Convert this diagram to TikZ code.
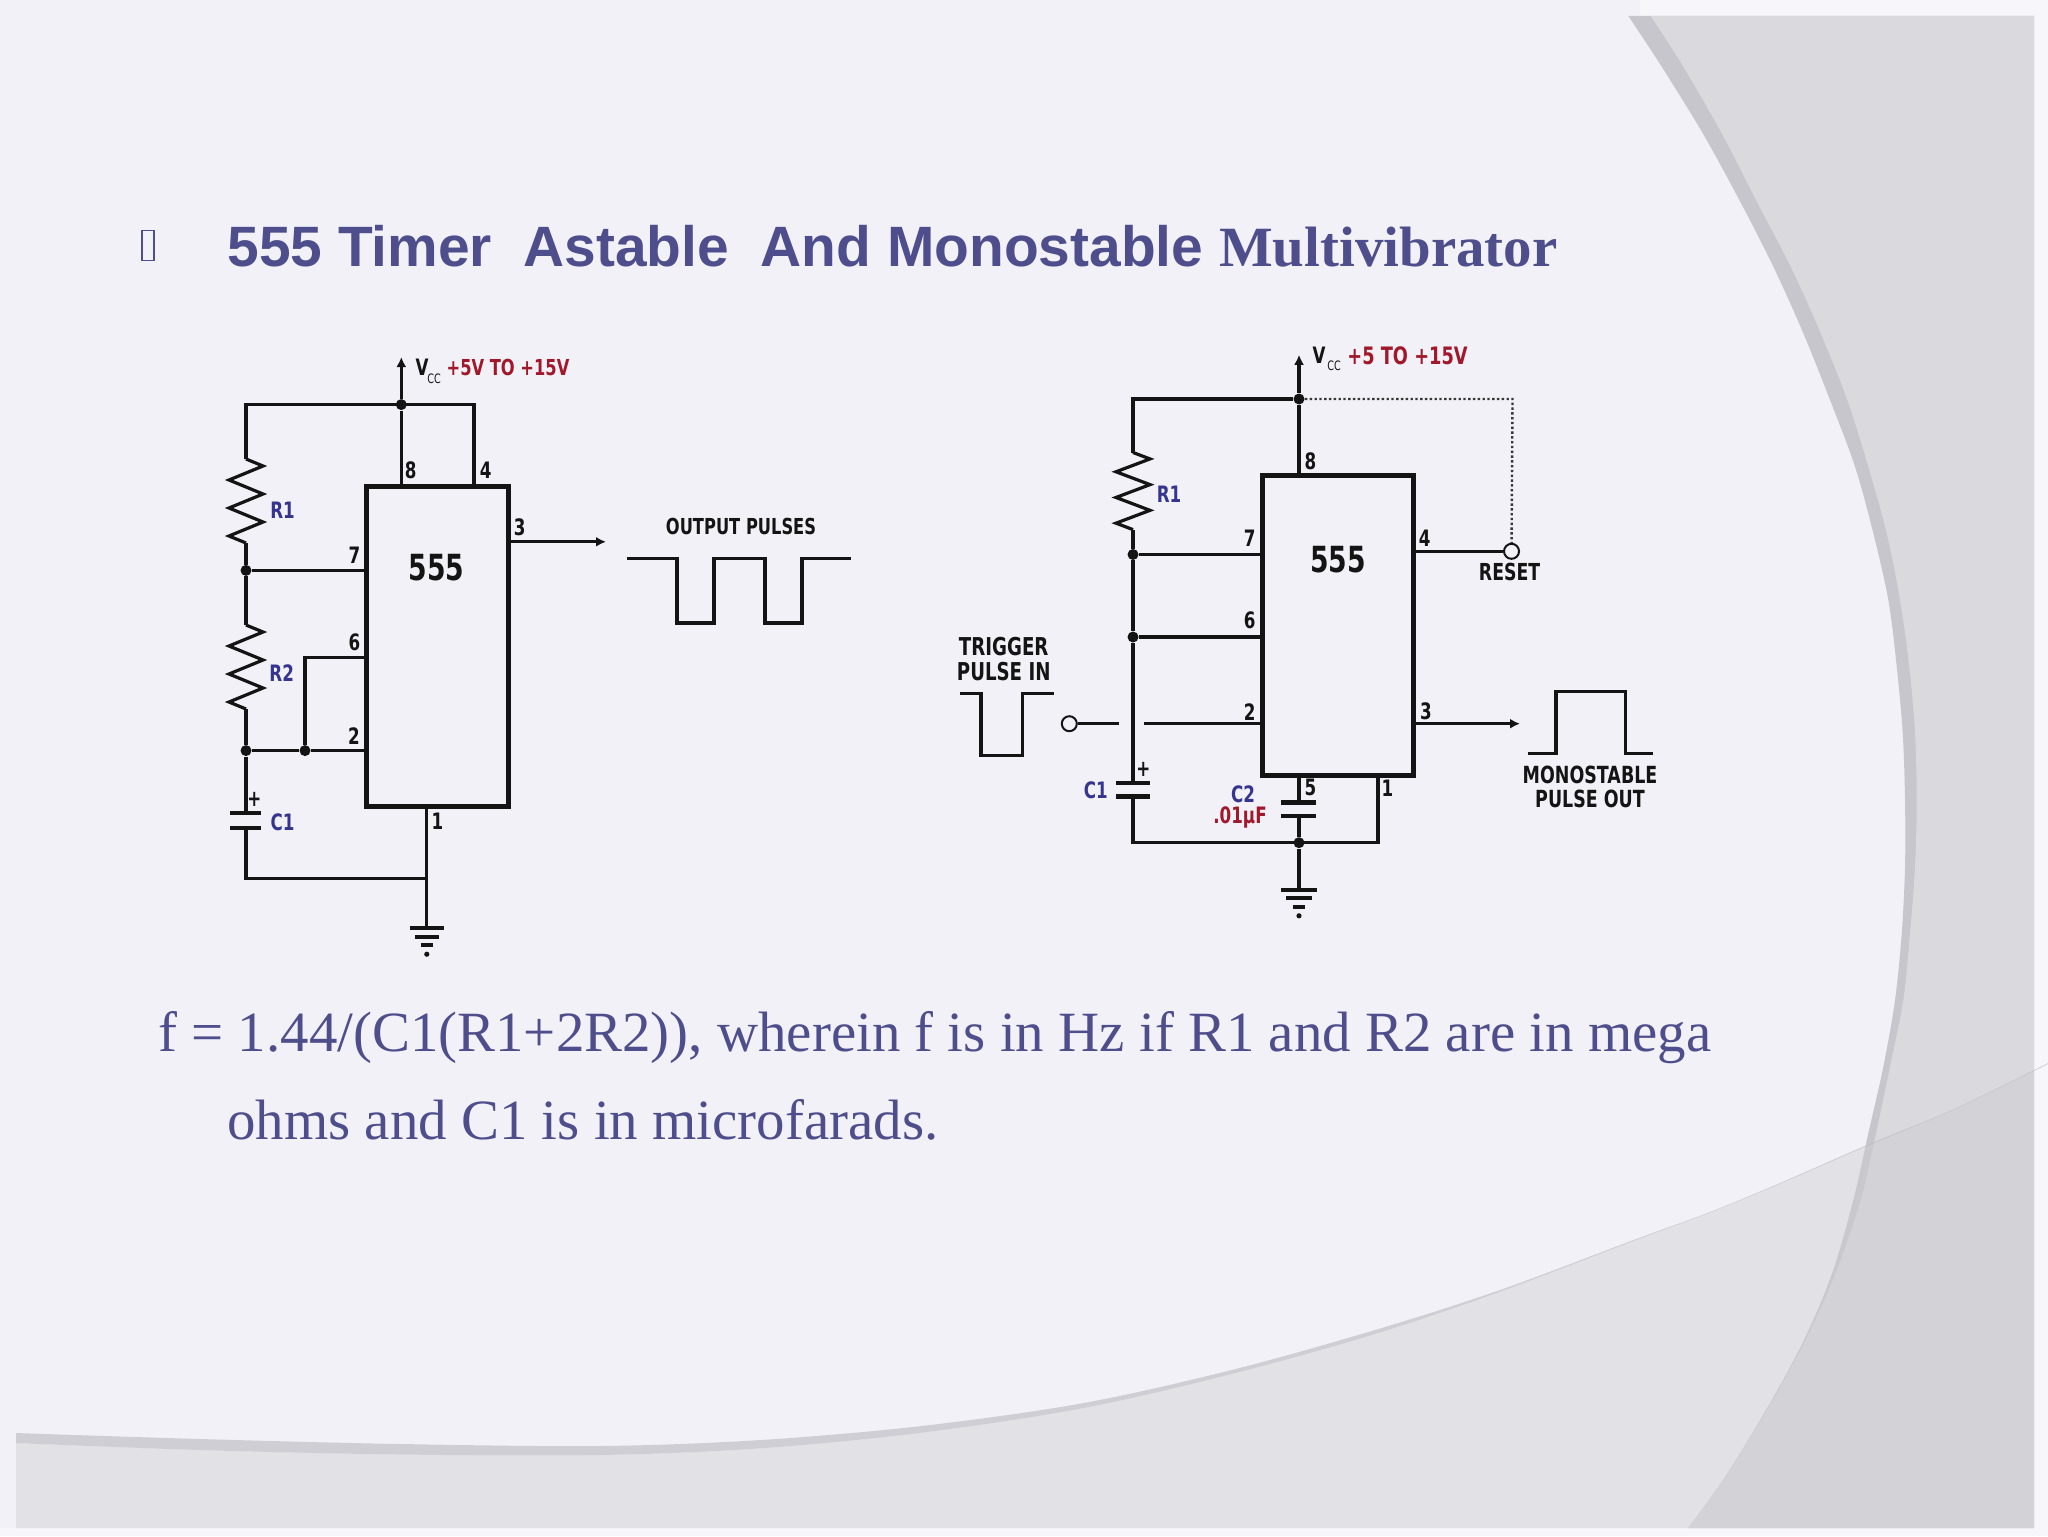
\documentclass[tikz,border=0pt]{standalone}
\usepackage{fontspec}
\usetikzlibrary{arrows.meta}
\setmainfont{Liberation Serif}
\newfontfamily\slidesans{Liberation Sans}
\newfontfamily\slideserif{Liberation Serif}
\newfontfamily\cktfont[FakeStretch=0.74]{DejaVu Sans}
\definecolor{slidebg}{HTML}{F2F1F8}
\definecolor{slidemargin}{HTML}{F7F7FB}
\definecolor{shadeR}{HTML}{D9D9DE}
\definecolor{bandR}{HTML}{C6C6CC}
\definecolor{swooshC}{RGB}{205,205,208}
\definecolor{bandS}{HTML}{B8B8BE}
\definecolor{txtpurple}{HTML}{4E4E8C}
\definecolor{cktred}{HTML}{A0182A}
\definecolor{cktblue}{HTML}{35358F}
\definecolor{cktblack}{HTML}{141414}
\tikzset{
  wire/.style={draw=cktblack,line width=1.6pt},
  chipbox/.style={draw=cktblack,line width=2.5pt,fill=none,inner sep=0pt,outer sep=0pt,anchor=north west},
  dotj/.style={circle,fill=cktblack,inner sep=0pt,minimum size=5.5pt},
  opencirc/.style={circle,draw=cktblack,fill=slidebg,line width=1pt,inner sep=0pt,minimum size=7.5pt},
  lbl/.style={font=\cktfont\bfseries\fontsize{11.3}{13}\selectfont,text=cktblack,inner sep=0pt,align=center},
  lblsz/.style={font=\cktfont\bfseries\fontsize{#1}{13}\selectfont},
  lblblue/.style={lbl,text=cktblue},
  lblred/.style={lbl,text=cktred},
  lblbig/.style={font=\cktfont\bfseries\fontsize{18}{20}\selectfont,text=cktblack,inner sep=0pt},
  plate/.style={draw=cktblack,line width=2.1pt},
  arrowwire/.style={wire,-{Latex[length=5pt,width=5pt]}},
  slidetxt/.style={anchor=base west,inner sep=0pt,text=txtpurple,font=\fontsize{28.45}{30}\selectfont},
}
\newcommand{\zigres}[3]{% x, ytop, ybot
  \draw[wire,line join=miter] (#1,#2) -- (#1+17,{#2+(#3-#2)/12}) -- (#1-17,{#2+3*(#3-#2)/12}) -- (#1+17,{#2+5*(#3-#2)/12}) -- (#1-17,{#2+7*(#3-#2)/12}) -- (#1+17,{#2+9*(#3-#2)/12}) -- (#1-17,{#2+11*(#3-#2)/12}) -- (#1,#3);
}
\newcommand{\gndsym}[3]{% x, ytop, half width
  \draw[plate] (#1-#3,#2) -- (#1+#3,#2);
  \draw[plate] ({#1-0.7*#3},#2+8.5) -- ({#1+0.7*#3},#2+8.5);
  \draw[plate] ({#1-0.35*#3},#2+17) -- ({#1+0.35*#3},#2+17);
  \fill[cktblack] (#1,#2+26) circle (1.3pt);
}
\begin{document}
\begin{tikzpicture}[x=0.5pt,y=-0.5pt]
\useasboundingbox (0,0) rectangle (2048,1536);
% background
\fill[slidebg] (0,0) rectangle (2048,1536);
\fill[slidemargin] (2034,0) rectangle (2048,1536);
\fill[slidemargin] (0,1528) rectangle (2048,1536);
\fill[slidemargin] (1640,0) rectangle (2048,17);
% right shape
\fill[bandR] plot[smooth,tension=0.55] coordinates {(1628.3,16) (1661.7,66.7) (1702.7,133.3) (1739.3,200) (1773.3,266.7) (1803.3,333.3) (1830,400) (1855,466.7) (1873.3,533.3) (1888.3,600) (1896.7,666.7) (1902.7,733.3) (1905,800) (1905,866.7) (1901.7,933.3) (1895,1000) (1883.3,1066.7) (1868.3,1133.3) (1853.3,1200) (1832,1273.5) (1803,1342) (1766,1410) (1724,1478.6) (1688,1528)} -- (2034,1528) -- (2034,16) -- cycle;
\fill[shadeR] plot[smooth,tension=0.55] coordinates {(1650.7,16) (1683.3,66.7) (1721.7,133.3) (1756,200) (1790.7,266.7) (1820.7,333.3) (1847.3,400) (1868.3,466.7) (1886.7,533.3) (1900,600) (1909.3,666.7) (1915,733.3) (1916.7,800) (1915,866.7) (1910,933.3) (1903.3,1000) (1890,1066.7) (1876,1133.3) (1860.7,1200) (1835.5,1273.5) (1804.5,1342) (1767,1410) (1724.5,1478.6) (1688,1528)} -- (2034,1528) -- (2034,16) -- cycle;
% bottom swoosh
\fill[swooshC,opacity=0.44] plot[smooth,tension=0.55] coordinates {(16,1443) (200,1450) (400,1454.5) (600,1455) (760.7,1448.3) (921.5,1432.7) (1082,1408.3) (1231.5,1374) (1375,1334) (1500,1291.7) (1640,1238.5) (1710,1212.6) (1780,1183.8) (1867,1146) (1954,1109.5) (2034,1071)} -- (2034,1528) -- (16,1528) -- cycle;
\fill[bandS,opacity=0.6] plot[smooth,tension=0.55] coordinates {(16,1433) (200,1439) (400,1444) (600,1446) (760.7,1440) (921.5,1426) (1082,1403.3) (1231.5,1370) (1375,1330) (1500,1290) (1640,1237.6) (1710,1212) (1780,1183) (1867,1145) (1954,1109) (2048,1063)} -- plot[smooth,tension=0.55] coordinates {(2048,1064) (1954,1109.5) (1867,1146) (1780,1183.8) (1710,1212.6) (1640,1238.5) (1500,1291.7) (1375,1334) (1231.5,1374) (1082,1408.3) (921.5,1432.7) (760.7,1448.3) (600,1455) (400,1454.5) (200,1450) (16,1443)} -- cycle;
% title and text
\draw[txtpurple,line width=0.9pt] (142,230.5) rectangle (154,260.5);
\node[slidetxt] (title) at (227,266) {\slidesans\bfseries 555 Timer~ Astable~ And Monostable \slideserif Multivibrator};
\node[slidetxt] (body1) at (158,1051) {f = 1.44/(C1(R1+2R2)), wherein f is in Hz if R1 and R2 are in mega};
\node[slidetxt] (body2) at (227,1139) {ohms and C1 is in microfarads.};

% ===== left circuit =====
\node[chipbox,minimum width=70.75pt,minimum height=160pt] (chipA) at (366.5,486) {};
\node[lblbig] (a555) at (436.6,568) {555};
\coordinate (aVtop) at (401.3,357);
\coordinate (aRailL) at (246,404.6);
\coordinate (aRailR) at (474,404.6);
\node[dotj] (aJ) at (401.3,404.6) {};
\coordinate (a8) at (401.3,486);
\coordinate (a4) at (474,486);
\coordinate (aR1t) at (246,459);
\coordinate (aR1b) at (246,543);
\node[dotj] (aN7) at (246,570.4) {};
\coordinate (a7) at (366.5,570.4);
\coordinate (aR2t) at (246,625);
\coordinate (aR2b) at (246,709);
\node[dotj] (aN2) at (246,750.6) {};
\node[dotj] (aN6) at (305,750.6) {};
\coordinate (a2) at (366.5,750.6);
\coordinate (a6c) at (305,657.5);
\coordinate (a6) at (366.5,657.5);
\coordinate (aCt) at (246,812.8);
\coordinate (aCb) at (246,828);
\coordinate (aBL) at (246,878.5);
\coordinate (aBR) at (426.8,878.5);
\coordinate (a1) at (426.8,806);
\coordinate (aG) at (426.8,928.2);
\coordinate (a3) at (508,541.8);
\coordinate (a3e) at (606,541.8);
\draw[arrowwire] (aJ) -- (aVtop);
\draw[wire] (a8) -- (aJ);
\draw[wire] (aR1t) -- (aRailL) -- (aRailR) -- (a4);
\zigres{246}{459}{543}
\draw[wire] (aR1b) -- (aN7);
\draw[wire] (aN7) -- (a7);
\draw[wire] (aN7) -- (aR2t);
\zigres{246}{625}{709}
\draw[wire] (aR2b) -- (aN2);
\draw[wire] (aN2) -- (aN6) -- (a2);
\draw[wire] (aN6) -- (a6c) -- (a6);
\draw[wire] (aN2) -- (aCt);
\draw[plate] (230,812.8) -- (261,812.8);
\draw[plate] (230,828) -- (261,828);
\draw[wire] (aCb) -- (aBL) -- (aBR);
\draw[wire] (a1) -- (aG);
\gndsym{426.8}{928.2}{17}
\draw[arrowwire] (a3) -- (a3e);
\draw[wire] (627,558.6) -- (677,558.6) -- (677,623) -- (714,623) -- (714,558.6) -- (765,558.6) -- (765,623) -- (802,623) -- (802,558.6) -- (851,558.6);
\node[lbl] (a8l) at (410.7,470.3) {8};
\node[lbl] (a4l) at (485.7,470.3) {4};
\node[lbl] (a3l) at (519.6,527) {3};
\node[lbl] (a7l) at (354.5,554.8) {7};
\node[lbl] (a6l) at (354.5,642) {6};
\node[lbl] (a2l) at (354,735.8) {2};
\node[lbl] (a1l) at (437.5,821.7) {1};
\node[lbl] (aplus) at (254.5,799.8) {+};
\node[lblblue] (aR1l) at (282.6,510) {R1};
\node[lblblue] (aR2l) at (281.7,672.7) {R2};
\node[lblblue] (aC1l) at (282.6,822) {C1};
\node[lbl] (aV) at (422,367) {V};
\node[font=\cktfont\fontsize{6.5}{7}\selectfont,text=cktblack,inner sep=0pt] (acc) at (434,378.5) {CC};
\node[lblred,lblsz=11] (avr) at (508,367) {+5V TO +15V};
\node[lbl,lblsz=11] (aout) at (741,526.2) {OUTPUT PULSES};

% ===== right circuit =====
\node[chipbox,minimum width=75.3pt,minimum height=150.2pt] (chipB) at (1262.8,475) {};
\node[lblbig] (b555) at (1337.8,559.2) {555};
\coordinate (bVtop) at (1299,354.8);
\node[dotj] (bJ) at (1299,399) {};
\coordinate (bRailL) at (1133,399);
\coordinate (bDotR) at (1512.5,399);
\coordinate (b8) at (1299,475);
\coordinate (bR1t) at (1133,452.5);
\coordinate (bR1b) at (1133,529.6);
\node[dotj] (bN7) at (1133,554.5) {};
\coordinate (b7) at (1262.8,554.5);
\node[dotj] (bN6) at (1133,637) {};
\coordinate (b6) at (1262.8,637);
\coordinate (bCt) at (1133,782.6);
\coordinate (bCb) at (1133,796.5);
\coordinate (bBL) at (1133,842.7);
\coordinate (bBR) at (1378,842.7);
\coordinate (b1) at (1378,775.5);
\node[dotj] (bJg) at (1299,842.7) {};
\coordinate (b5) at (1299,775.5);
\coordinate (bC2t) at (1299,802.4);
\coordinate (bC2b) at (1299,816.2);
\coordinate (bG) at (1299,889.8);
\coordinate (b4) at (1413.4,551.3);
\node[opencirc] (bRes) at (1511.5,551.3) {};
\coordinate (b3) at (1413.4,723.7);
\coordinate (b3e) at (1520,723.7);
\coordinate (b2) at (1262.8,723.7);
\coordinate (b2g) at (1144,723.7);
\coordinate (b2h) at (1119,723.7);
\node[opencirc] (bTrig) at (1069.3,723.7) {};
\draw[arrowwire] (bJ) -- (bVtop);
\draw[wire] (b8) -- (bJ);
\draw[wire] (bR1t) -- (bRailL) -- (bJ);
\draw[draw=cktblack!85,line width=1.2pt,dash pattern=on 1.2pt off 1.2pt] (bJ) -- (bDotR) -- (bRes);
\zigres{1133}{452.5}{529.6}
\draw[wire] (bR1b) -- (bN7);
\draw[wire] (bN7) -- (b7);
\draw[wire] (bN7) -- (bN6);
\draw[wire] (bN6) -- (b6);
\draw[wire] (bN6) -- (bCt);
\draw[plate] (1115.6,782.6) -- (1150,782.6);
\draw[plate] (1115.6,796.5) -- (1150,796.5);
\draw[wire] (bCb) -- (bBL) -- (bBR) -- (b1);
\draw[wire] (b5) -- (bC2t);
\draw[plate] (1281,802.4) -- (1316,802.4);
\draw[plate] (1281,816.2) -- (1316,816.2);
\draw[wire] (bC2b) -- (bJg);
\draw[wire] (bJg) -- (bG);
\gndsym{1299}{889.8}{18}
\draw[wire] (b4) -- (bRes);
\draw[arrowwire] (b3) -- (b3e);
\draw[wire] (bTrig) -- (b2h);
\draw[wire] (b2g) -- (b2);
\draw[wire] (959.8,693.3) -- (981,693.3) -- (981,755.3) -- (1022.6,755.3) -- (1022.6,693.3) -- (1054,693.3);
\draw[wire] (1527.5,753.8) -- (1555.9,753.8) -- (1555.9,691.7) -- (1625.7,691.7) -- (1625.7,753.8) -- (1652.6,753.8);
\node[lbl] (b8l) at (1310.5,461) {8};
\node[lbl] (b7l) at (1249.6,538.7) {7};
\node[lbl] (b6l) at (1249.6,620.5) {6};
\node[lbl] (b2l) at (1249.6,712.2) {2};
\node[lbl] (b4l) at (1424.7,538.7) {4};
\node[lbl] (b3l) at (1426,711.5) {3};
\node[lbl] (b5l) at (1310.5,787.8) {5};
\node[lbl] (b1l) at (1387.4,788.6) {1};
\node[lbl] (bplus) at (1143.4,769.6) {+};
\node[lblblue] (bR1l) at (1169,494.4) {R1};
\node[lblblue] (bC1l) at (1095.7,790.5) {C1};
\node[lblblue] (bC2l) at (1243,794.5) {C2};
\node[lblred] (bC2v) at (1240,817.4) {.01µF};
\node[lbl] (bV) at (1319,355.6) {V};
\node[font=\cktfont\fontsize{6.5}{7}\selectfont,text=cktblack,inner sep=0pt] (bcc) at (1334,365.5) {CC};
\node[lblred,lblsz=12] (bvr) at (1407.5,355.6) {+5 TO +15V};
\node[lbl,lblsz=12.3] (btrig) at (1003.7,647) {TRIGGER};
\node[lbl,lblsz=12.3] (bpin) at (1003.7,671.9) {PULSE IN};
\node[lbl,lblsz=11.7] (bresl) at (1509.6,571.9) {RESET};
\node[lbl,lblsz=11.8] (bmono) at (1590,774.7) {MONOSTABLE};
\node[lbl,lblsz=11.8] (bpout) at (1590,799.2) {PULSE OUT};
\end{tikzpicture}
\end{document}
